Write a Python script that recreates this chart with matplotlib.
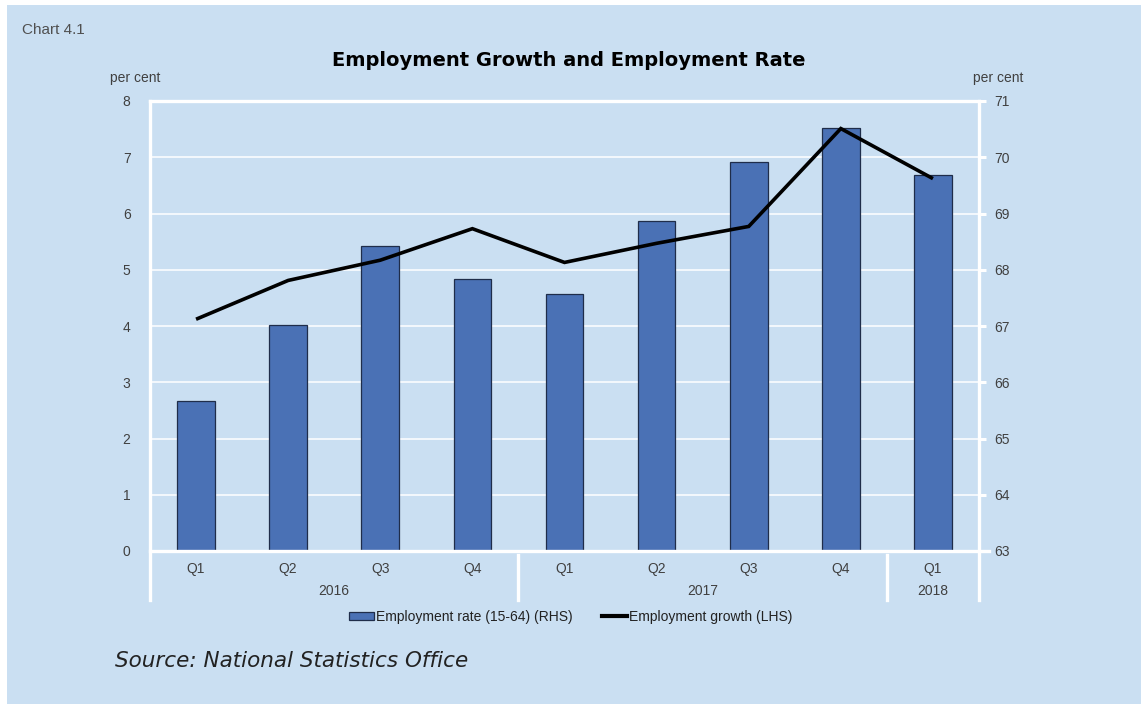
import matplotlib.pyplot as plt
import numpy as np
from matplotlib.patches import Rectangle
from matplotlib.lines import Line2D

# quarterly data, 2016Q1 - 2018Q1
quarters = ['Q1', 'Q2', 'Q3', 'Q4', 'Q1', 'Q2', 'Q3', 'Q4', 'Q1']
years = ['2016', '2017', '2018']
year_spans = [(0, 3), (4, 7), (8, 8)]
emp_rate = [65.67, 67.02, 68.43, 67.84, 67.56, 68.86, 69.92, 70.52, 69.68]   # RHS
emp_growth = [4.12, 4.81, 5.17, 5.73, 5.13, 5.47, 5.77, 7.51, 6.62]          # LHS

rhs_min, rhs_max = 63, 71
lhs_min, lhs_max = 0, 8

bg = '#CADFF2'
bar_col = '#4A71B5'
txt_col = '#404040'

plt.rcParams['font.family'] = ['Liberation Sans', 'DejaVu Sans']
plt.rcParams['font.size'] = 10

fig = plt.figure(figsize=(11.41, 7.04), dpi=100)
fig.patch.set_facecolor('white')
fig.patches.append(Rectangle((7 / 1141, 0.0), 1 - 7 / 1141, 1 - 5 / 704,
                             transform=fig.transFigure, facecolor=bg,
                             edgecolor='none', zorder=-10))

rect = [150 / 1141, 1 - 551 / 704, 829 / 1141, 450 / 704]
ax_r = fig.add_axes(rect)
ax_r.set_facecolor(bg)
ax_l = ax_r.twinx()
ax_l.set_zorder(ax_r.get_zorder() + 1)
ax_l.patch.set_visible(False)

x = np.arange(len(quarters))

# bars on the right-hand scale, rising from the axis floor
heights = np.array(emp_rate) - rhs_min
ax_r.bar(x, heights, width=0.41, bottom=rhs_min, color=bar_col,
         edgecolor='#1F2D4A', linewidth=0.9, zorder=2)
ax_r.set_ylim(rhs_min, rhs_max)
ax_r.set_yticks(range(rhs_min, rhs_max + 1))
ax_r.yaxis.tick_right()
ax_r.grid(axis='y', color='white', linewidth=1.3, alpha=0.85, zorder=0)
ax_r.set_axisbelow(True)

# growth line on the left-hand scale
ax_l.plot(x, emp_growth, color='black', linewidth=2.6, solid_capstyle='butt',
          solid_joinstyle='miter', zorder=3)
ax_l.set_ylim(lhs_min, lhs_max)
ax_l.set_yticks(range(lhs_min, lhs_max + 1))
ax_l.yaxis.tick_left()

ax_r.set_xlim(-0.5, len(quarters) - 0.5)
ax_r.set_xticks(x)
ax_r.set_xticklabels(quarters)

for a in (ax_r, ax_l):
    for s in a.spines.values():
        s.set_visible(False)
ax_r.tick_params(axis='x', length=0, pad=8, colors=txt_col, labelsize=10)
ax_r.tick_params(axis='y', length=5, width=2.2, color='white', pad=6,
                 labelcolor=txt_col, labelsize=10)
ax_l.tick_params(axis='y', length=0, pad=14, labelcolor=txt_col, labelsize=10)

# white frame, with the left/right edges running down past the category labels
frame = dict(color='white', linewidth=2.4, transform=ax_r.transAxes,
             clip_on=False, zorder=5, solid_capstyle='projecting')
low = -0.108
ax_r.add_line(Line2D([0, 1], [1, 1], **frame))
ax_r.add_line(Line2D([0, 1.012], [0, 0], **frame))
ax_r.add_line(Line2D([0, 0], [low, 1], **frame))
ax_r.add_line(Line2D([1, 1], [low, 1], **frame))
n = len(quarters)
for s, e in year_spans[:-1]:
    xs = (e + 1) / n
    ax_r.add_line(Line2D([xs, xs], [low, -0.008], **frame))

# year labels under the quarters
for yr, (s, e) in zip(years, year_spans):
    ax_r.text((s + e) / 2, -0.088, yr, transform=ax_r.get_xaxis_transform(),
              ha='center', va='center', color=txt_col, fontsize=10)

fig.text(135 / 1141, 1 - 78 / 704, 'per cent', ha='center', va='center',
         color=txt_col, fontsize=10)
fig.text(998 / 1141, 1 - 78 / 704, 'per cent', ha='center', va='center',
         color=txt_col, fontsize=10)
fig.text(22 / 1141, 1 - 30 / 704, 'Chart 4.1', ha='left', va='center',
         color='#505050', fontsize=11)
fig.text(569 / 1141, 1 - 61 / 704, 'Employment Growth and Employment Rate',
         ha='center', va='center', fontsize=14, fontweight='bold',
         family='DejaVu Sans', color='black')
fig.text(115 / 1141, 1 - 661 / 704, 'Source: National Statistics Office',
         ha='left', va='center', fontsize=15.5, style='italic',
         family='DejaVu Sans', color='#222222')

handles = [Rectangle((0, 0), 1, 1, facecolor=bar_col, edgecolor='#1F2D4A',
                     linewidth=0.9),
           Line2D([], [], color='black', linewidth=3)]
fig.legend(handles, ['Employment rate (15-64) (RHS)', 'Employment growth (LHS)'],
           loc='center', bbox_to_anchor=(571 / 1141, 1 - 617 / 704), ncol=2,
           frameon=False, fontsize=10, handlelength=1.8, handleheight=0.55,
           handletextpad=0.15, columnspacing=2.1, labelcolor='#222222')

fig.savefig('out.png', dpi=100, facecolor=fig.get_facecolor())
